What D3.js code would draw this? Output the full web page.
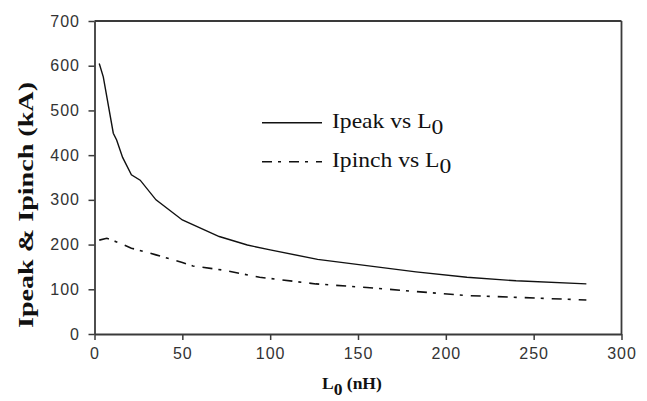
<!DOCTYPE html>
<html>
<head>
<meta charset="utf-8">
<script src="https://cdn.jsdelivr.net/npm/d3@7"></script>
<style>
  body { margin: 0; background: #fff; }
  svg { display: block; }
</style>
</head>
<body>
<svg id="chart" width="647" height="401"></svg>
<script>
// values
var peakL = [2.7, 5, 10.7, 12.6, 16, 21, 26, 35, 50, 71, 87, 100, 127, 155, 183, 212, 240, 280];
var peakI = [605, 575, 449, 434, 395, 356, 344, 300, 255, 218, 199, 188, 167, 153, 139, 127, 119, 112];
var pinchL = [2.7, 7, 12.6, 21, 35, 50, 56, 73, 94, 126, 155, 183, 212, 240, 280];
var pinchI = [210, 214, 206, 192, 177, 160, 152, 143, 127, 112, 104, 95, 86, 82, 76];
var xTicks = [0, 50, 100, 150, 200, 250, 300];
var yTicks = [0, 100, 200, 300, 400, 500, 600, 700];

var svg = d3.select("#chart");

// plot box in pixels
var x = d3.scaleLinear().domain([0, 300]).range([94.5, 621.5]);
var y = d3.scaleLinear().domain([0, 700]).range([334, 21]);

var axisCol = "#3a3a3a";

// frame on top and right
svg.append("line")
    .attr("x1", x(0)).attr("x2", x(300))
    .attr("y1", y(700)).attr("y2", y(700))
    .attr("stroke", axisCol).attr("stroke-width", 1.8);
svg.append("line")
    .attr("x1", x(300)).attr("x2", x(300))
    .attr("y1", y(700)).attr("y2", y(0))
    .attr("stroke", axisCol).attr("stroke-width", 1.8);

var gX = svg.append("g")
    .attr("transform", "translate(0," + y(0) + ")")
    .call(d3.axisBottom(x).tickValues(xTicks).tickSize(6).tickSizeOuter(0).tickPadding(8));
var gY = svg.append("g")
    .attr("transform", "translate(" + x(0) + ",0)")
    .call(d3.axisLeft(y).tickValues(yTicks).tickSize(6).tickSizeOuter(0).tickPadding(8.5));

[gX, gY].forEach(function (g) {
    g.select(".domain").attr("stroke", axisCol).attr("stroke-width", 1.8);
    g.selectAll(".tick line").attr("stroke", axisCol).attr("stroke-width", 1.5);
    g.selectAll(".tick text")
        .attr("fill", "#333")
        .style("font-family", "'Liberation Sans', Arial, sans-serif")
        .style("font-size", "16px")
        .style("letter-spacing", "1px");
});

// curves
var line = d3.line()
    .x(function (d) { return x(d[0]); })
    .y(function (d) { return y(d[1]); });

svg.append("path")
    .datum(d3.zip(peakL, peakI))
    .attr("d", line)
    .attr("fill", "none")
    .attr("stroke", "#111")
    .attr("stroke-width", 1.4);

svg.append("path")
    .datum(d3.zip(pinchL, pinchI))
    .attr("d", line)
    .attr("fill", "none")
    .attr("stroke", "#111")
    .attr("stroke-width", 1.6)
    .attr("stroke-dasharray", "10,6,3,8");

// legend
var serif = "'Liberation Serif', 'Times New Roman', serif";
var legend = [
    { name: "Ipeak vs L", dash: null, y: 122.7 },
    { name: "Ipinch vs L", dash: "10,6,3,8", y: 161.7 }
];
legend.forEach(function (d) {
    svg.append("line")
        .attr("x1", 262).attr("x2", 322)
        .attr("y1", d.y).attr("y2", d.y)
        .attr("stroke", "#111")
        .attr("stroke-width", d.dash ? 1.6 : 1.4)
        .attr("stroke-dasharray", d.dash);
    var t = svg.append("text")
        .attr("transform", "translate(332," + (d.y + 5.5) + ") scale(1.18,1)")
        .attr("fill", "#111")
        .style("font-family", serif)
        .style("font-size", "20px");
    t.append("tspan").text(d.name);
    t.append("tspan").attr("dy", 6).text("0");
});

// axis titles
var xt = svg.append("text")
    .attr("x", 322).attr("y", 389)
    .attr("fill", "#111")
    .style("font-family", serif)
    .style("font-weight", "bold")
    .style("font-size", "17.5px");
xt.append("tspan").text("L");
xt.append("tspan").attr("dy", 6).text("0");
xt.append("tspan").attr("dy", -6).text(" (nH)");

svg.append("text")
    .attr("transform", "translate(32.5,328) rotate(-90)")
    .attr("textLength", 246)
    .attr("lengthAdjust", "spacingAndGlyphs")
    .attr("fill", "#111")
    .style("font-family", serif)
    .style("font-weight", "bold")
    .style("font-size", "20px")
    .text("Ipeak & Ipinch (kA)");
</script>
</body>
</html>
